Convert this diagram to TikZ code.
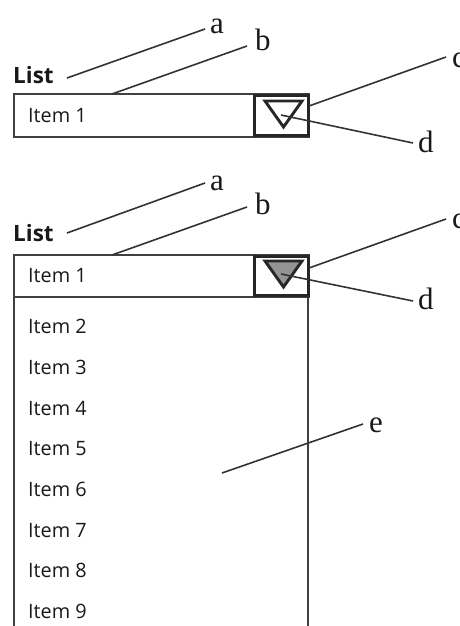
\documentclass[tikz,border=0pt]{standalone}
\usepackage{fontspec}
\setmainfont{Liberation Serif}
\newfontfamily\uifont{Open Sans}
\begin{document}
\begin{tikzpicture}[x=1pt,y=-1pt,
  lbl/.style={anchor=base west, inner sep=0pt, font=\fontsize{31}{31}\selectfont, text=black!90},
  lead/.style={draw=black!80, line width=1.6pt},
  itemtxt/.style={anchor=base west, inner sep=0pt, font=\uifont\fontsize{19.8}{20}\selectfont, text=black!90},
  titletxt/.style={anchor=base west, inner sep=0pt, font=\uifont\bfseries\fontsize{22.5}{23}\selectfont, text=black!90},
  field/.style={draw=black!75, line width=1.3pt},
  button/.style={draw=black!85, line width=2.8pt},
  arrowtri/.style={draw=black!85, line width=2.9pt, line join=miter},
  ]
\useasboundingbox (0,0) rectangle (460,626);

% ---------- top: closed list ----------
\node[titletxt] (t1) at (13,83) {List};
\draw[field] (14,94) rectangle (309,137);
\draw[button] (254.4,95.4) rectangle (308.6,135.6);
\draw[arrowtri] (265,101) -- (302,101) -- (283.5,127) -- cycle;
\node[itemtxt] (i1a) at (28,122) {Item 1};

\coordinate (sa1) at (67,78);   \coordinate (ea1) at (205,29);
\coordinate (sb1) at (112,94);  \coordinate (eb1) at (247,46);
\coordinate (sc1) at (309,106); \coordinate (ec1) at (446,57);
\coordinate (sd1) at (281,115); \coordinate (ed1) at (413,143);
\node[lbl] (la1) at (210,34) {a};
\node[lbl] (lb1) at (255,51) {b};
\node[lbl] (lc1) at (452,67) {c};
\node[lbl] (ld1) at (418,152) {d};
\draw[lead] (sa1) -- (ea1);
\draw[lead] (sb1) -- (eb1);
\draw[lead] (sc1) -- (ec1);
\draw[lead] (sd1) -- (ed1);

% ---------- bottom: open list ----------
\node[titletxt] (t2) at (13,241) {List};
\draw[field] (14,255) rectangle (309,297);
\draw[field] (14,297) -- (14,640);
\draw[field] (308,297) -- (308,640);
\draw[button] (254.4,256.4) rectangle (308.6,295.6);
\draw[arrowtri, fill=black!42] (265,261) -- (302,261) -- (283.5,287) -- cycle;
\node[itemtxt] (i1b) at (28,282) {Item 1};
\foreach \n/\y in {2/333,3/374,4/415,5/455,6/496,7/537,8/577,9/618}
  \node[itemtxt] (item\n) at (28,\y) {Item \n};

\coordinate (sa2) at (67,233);  \coordinate (ea2) at (205,183);
\coordinate (sb2) at (112,255); \coordinate (eb2) at (247,207);
\coordinate (sc2) at (309,268); \coordinate (ec2) at (446,219);
\coordinate (sd2) at (281,274); \coordinate (ed2) at (413,301);
\coordinate (se2) at (222,473); \coordinate (ee2) at (363,424);
\node[lbl] (la2) at (210,190) {a};
\node[lbl] (lb2) at (255,214) {b};
\node[lbl] (lc2) at (452,228) {c};
\node[lbl] (ld2) at (418,309) {d};
\node[lbl] (le2) at (369,432) {e};
\draw[lead] (sa2) -- (ea2);
\draw[lead] (sb2) -- (eb2);
\draw[lead] (sc2) -- (ec2);
\draw[lead] (sd2) -- (ed2);
\draw[lead] (se2) -- (ee2);
\end{tikzpicture}
\end{document}
